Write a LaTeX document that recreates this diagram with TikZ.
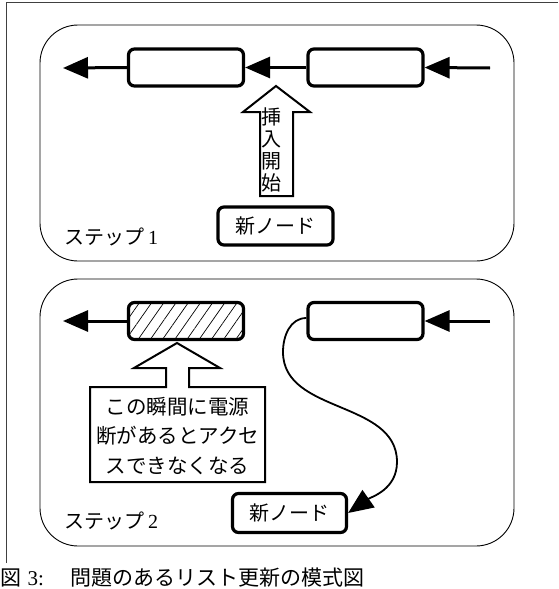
\documentclass[tikz,border=0pt]{standalone}
\usepackage{fontspec}
\setmainfont{Liberation Serif}
\newfontfamily\jp{Noto Sans CJK JP}
\usetikzlibrary{arrows.meta,patterns.meta}
\begin{document}
\begin{tikzpicture}[x=1pt,y=-1pt,
  frame/.style={draw=black!75, line width=1pt},
  stepbox/.style={draw, line width=0.9pt, rounded corners=38pt},
  lnode/.style={draw, line width=3.2pt, rounded corners=6pt, minimum width=115pt, minimum height=37pt, inner sep=0pt},
  link/.style={line width=3pt, -{Triangle[length=25pt,width=21pt]}},
  curvelink/.style={line width=1.8pt, -{Triangle[length=25pt,width=21pt]}},
  hollow/.style={draw, line width=2pt, fill=white, line join=miter},
  jtext/.style={font=\jp\fontsize{20pt}{24pt}\selectfont, inner sep=0pt}
]
\useasboundingbox (0,0) rectangle (558,589);
% outer frame (cut off at right and bottom)
\draw[frame] (6,563) -- (6,2.5) -- (558,2.5);

% ---------- step 1 ----------
\draw[stepbox] (40,25) rectangle (514,261);
\node[lnode] (a1) at (186,67.5) {};
\node[lnode] (b1) at (365.5,67.5) {};
\coordinate (l1) at (63,68);
\coordinate (r1) at (490,68);
\draw[link] (a1.west) -- (l1);
\draw[link] (b1.west) -- (a1.east);
\draw[link] (r1) -- (b1.east);
\draw[hollow] (276,86) -- (310,112) -- (293,112) -- (293,196) -- (260,196) -- (260,112) -- (243,112) -- cycle;
\node[jtext, align=center, font=\jp\fontsize{20pt}{22pt}\selectfont] (ins) at (271.5,150) {挿\\入\\開\\始};
\node[lnode, minimum width=115pt, minimum height=38pt] (n1) at (275.5,226) {};
\node[jtext] (n1t) at (n1) {新ノード};
\node[jtext, anchor=west] (s1) at (64,237) {ステップ\hspace{4pt}{\rmfamily 1}};

% ---------- step 2 ----------
\draw[stepbox] (40,279) rectangle (514,546);
\node[lnode, pattern={Lines[angle=55,distance=10pt,line width=0.7pt]}] (a2) at (186,321) {};
\node[lnode] (b2) at (365.5,321) {};
\coordinate (l2) at (63,321);
\coordinate (r2) at (490,321);
\draw[link] (a2.west) -- (l2);
\draw[link] (r2) -- (b2.east);
\draw[hollow] (90,387) -- (166,387) -- (166,368) -- (134,368) -- (177,343) -- (220,368) -- (189,368) -- (189,387) -- (265,387) -- (265,482) -- (90,482) -- cycle;
\node[jtext, align=center, font=\jp\fontsize{20.5pt}{29.5pt}\selectfont] (warn) at (177.5,436) {この瞬間に電源\\断があるとアクセ\\スできなくなる};
\node[lnode, minimum width=114pt, minimum height=39pt] (n2) at (289.5,513) {};
\node[jtext] (n2t) at (n2) {新ノード};
\draw[curvelink] ([yshift=3pt]b2.west) to[out=180,in=90] (283,352) to[out=-90,in=90] (397,462) to[out=-90,in=35] (n2.east);
\node[jtext, anchor=west] (s2) at (64,521) {ステップ\hspace{4pt}{\rmfamily 2}};

% ---------- caption ----------
\node[anchor=west, inner sep=0pt, font=\fontsize{21pt}{24pt}\selectfont] (cap) at (0.5,577.5) {{\jp 図}\hspace{6pt}3:\hspace{26pt}{\jp 問題のあるリスト更新の模式図}};
\end{tikzpicture}
\end{document}
